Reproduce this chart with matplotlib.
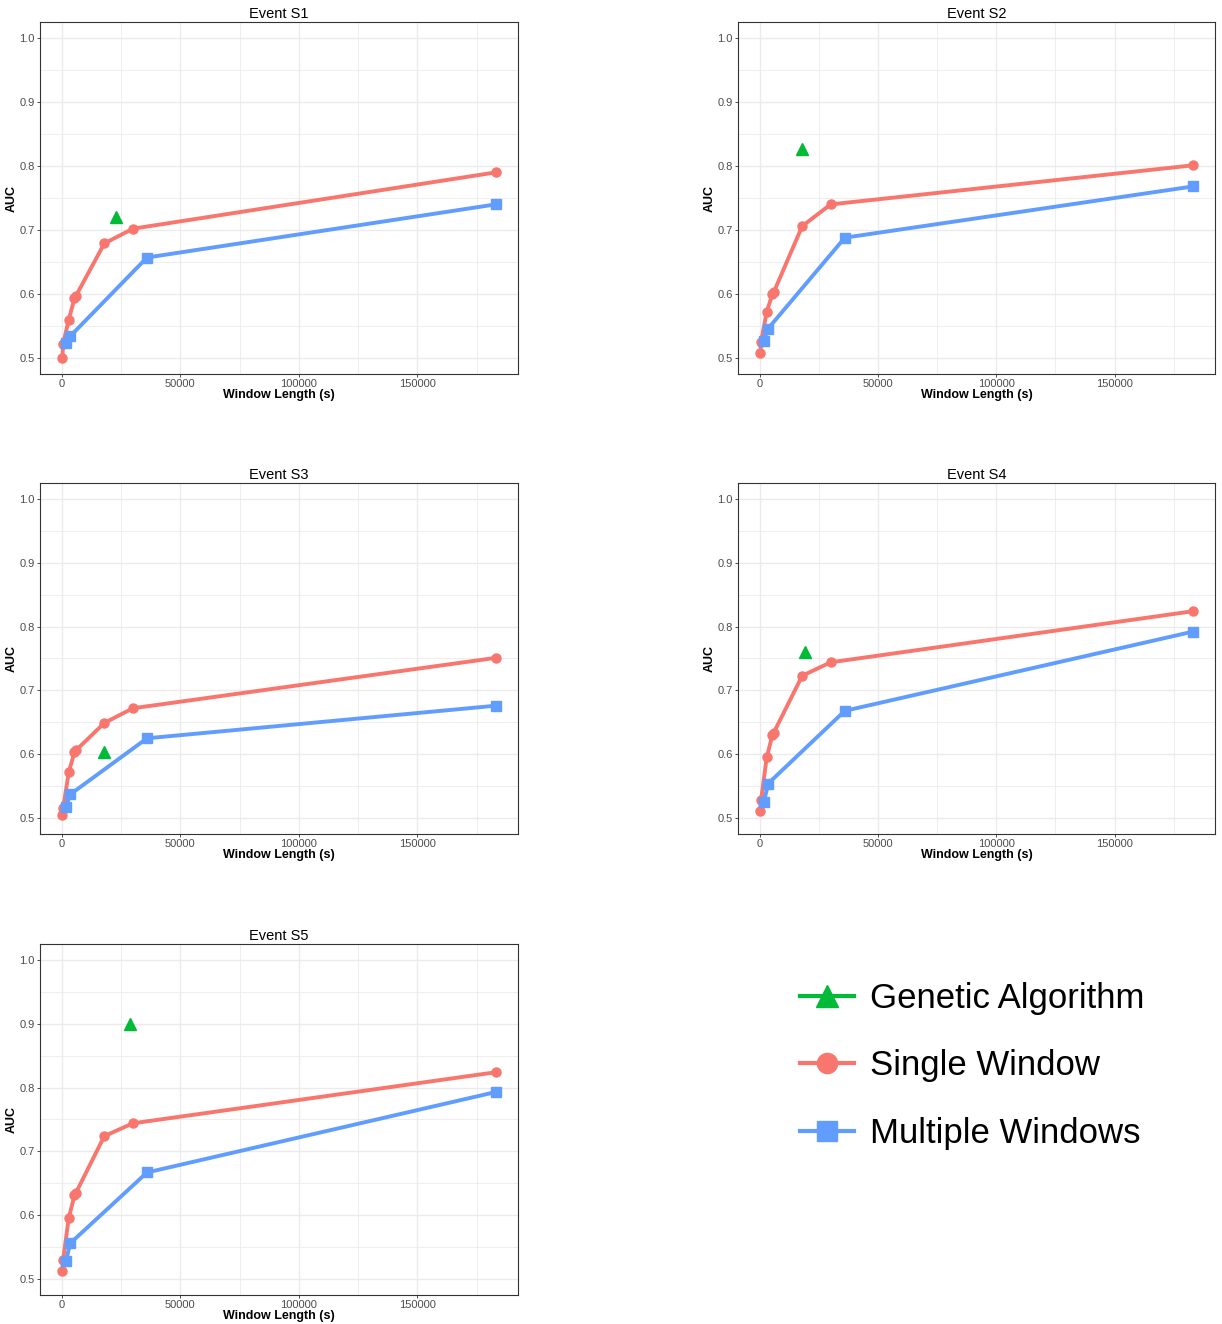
import matplotlib
matplotlib.use("Agg")
import matplotlib.pyplot as plt
from matplotlib.lines import Line2D
from matplotlib.ticker import MultipleLocator

plt.rcParams['font.family'] = ['Liberation Sans', 'DejaVu Sans']

events = ["Event S1", "Event S2", "Event S3", "Event S4", "Event S5"]

single_x = [300, 600, 3000, 5400, 6000, 18000, 30000, 183000]
single_y = {
    "Event S1": [0.500, 0.522, 0.560, 0.593, 0.597, 0.679, 0.702, 0.790],
    "Event S2": [0.508, 0.525, 0.572, 0.600, 0.603, 0.706, 0.740, 0.801],
    "Event S3": [0.505, 0.515, 0.572, 0.603, 0.606, 0.649, 0.672, 0.751],
    "Event S4": [0.511, 0.528, 0.595, 0.630, 0.634, 0.723, 0.744, 0.824],
    "Event S5": [0.512, 0.530, 0.596, 0.631, 0.635, 0.724, 0.744, 0.824],
}

multi_x = [1800, 3600, 36000, 183000]
multi_y = {
    "Event S1": [0.523, 0.534, 0.657, 0.740],
    "Event S2": [0.527, 0.546, 0.688, 0.768],
    "Event S3": [0.517, 0.537, 0.625, 0.676],
    "Event S4": [0.525, 0.554, 0.668, 0.792],
    "Event S5": [0.528, 0.556, 0.667, 0.793],
}

ga_x = {"Event S1": 23000, "Event S2": 18000, "Event S3": 18000, "Event S4": 19000, "Event S5": 29000}
ga_y = {"Event S1": 0.720, "Event S2": 0.826, "Event S3": 0.604, "Event S4": 0.760, "Event S5": 0.900}

x_ticks = [0, 50000, 100000, 150000]
y_ticks = [0.5, 0.6, 0.7, 0.8, 0.9, 1.0]

RED = "#F8766D"
GREEN = "#00BA38"
BLUE = "#619CFF"
GRID = "#EBEBEB"
TXT = "#4D4D4D"

W, H = 1222, 1324
fig = plt.figure(figsize=(W / 100, H / 100), dpi=100)

# panel boxes in pixels: (left, top, right, bottom)
boxes = {
    "Event S1": (40, 22, 518, 374),
    "Event S2": (738, 22, 1215, 374),
    "Event S3": (40, 483, 518, 834),
    "Event S4": (738, 483, 1215, 834),
    "Event S5": (40, 944, 518, 1295),
}

for ev in events:
    l, t, r, b = boxes[ev]
    ax = fig.add_axes([l / W, (H - b) / H, (r - l) / W, (b - t) / H])
    ax.set_xlim(-9135, 192435)
    ax.set_ylim(0.475, 1.025)
    ax.set_xticks(x_ticks)
    ax.set_xticklabels([str(v) for v in x_ticks])
    ax.set_yticks(y_ticks)
    ax.set_yticklabels([f"{v:.1f}" for v in y_ticks])
    ax.xaxis.set_minor_locator(MultipleLocator(25000))
    ax.yaxis.set_minor_locator(MultipleLocator(0.05))
    ax.grid(True, which="major", color=GRID, lw=1.0, zorder=0)
    ax.grid(True, which="minor", color=GRID, lw=0.6, zorder=0)
    ax.set_axisbelow(True)
    ax.tick_params(which="minor", length=0)
    ax.tick_params(which="major", length=2.5, width=0.6, color="#333333",
                   labelsize=8, labelcolor=TXT, pad=1.2)
    for s in ax.spines.values():
        s.set_color("#333333")
        s.set_linewidth(0.8)

    ax.plot(single_x, single_y[ev], color=RED, lw=2.8, marker="o", ms=6.5,
            zorder=3, solid_capstyle="butt")
    ax.plot(multi_x, multi_y[ev], color=BLUE, lw=2.8, marker="s", ms=6.5,
            zorder=4, solid_capstyle="butt")
    ax.plot([ga_x[ev]], [ga_y[ev]], color=GREEN, marker="^", ms=8, ls="none",
            zorder=5)

    ax.set_title(ev, fontsize=10.5, pad=3)
    ax.set_xlabel("Window Length (s)", fontsize=9, fontweight="bold", labelpad=0)
    ax.set_ylabel("AUC", fontsize=9, fontweight="bold", labelpad=1)

handles = [
    Line2D([], [], color=GREEN, lw=3, marker="^", ms=16),
    Line2D([], [], color=RED, lw=3, marker="o", ms=14.5),
    Line2D([], [], color=BLUE, lw=3, marker="s", ms=14),
]
labels = ["Genetic Algorithm", "Single Window", "Multiple Windows"]
fig.legend(handles, labels, loc="center left",
           bbox_to_anchor=(769 / W, (H - 1066) / H), frameon=False,
           fontsize=25, handlelength=1.55, handletextpad=0.45, labelspacing=1.0)

fig.savefig("out.png", dpi=100)
